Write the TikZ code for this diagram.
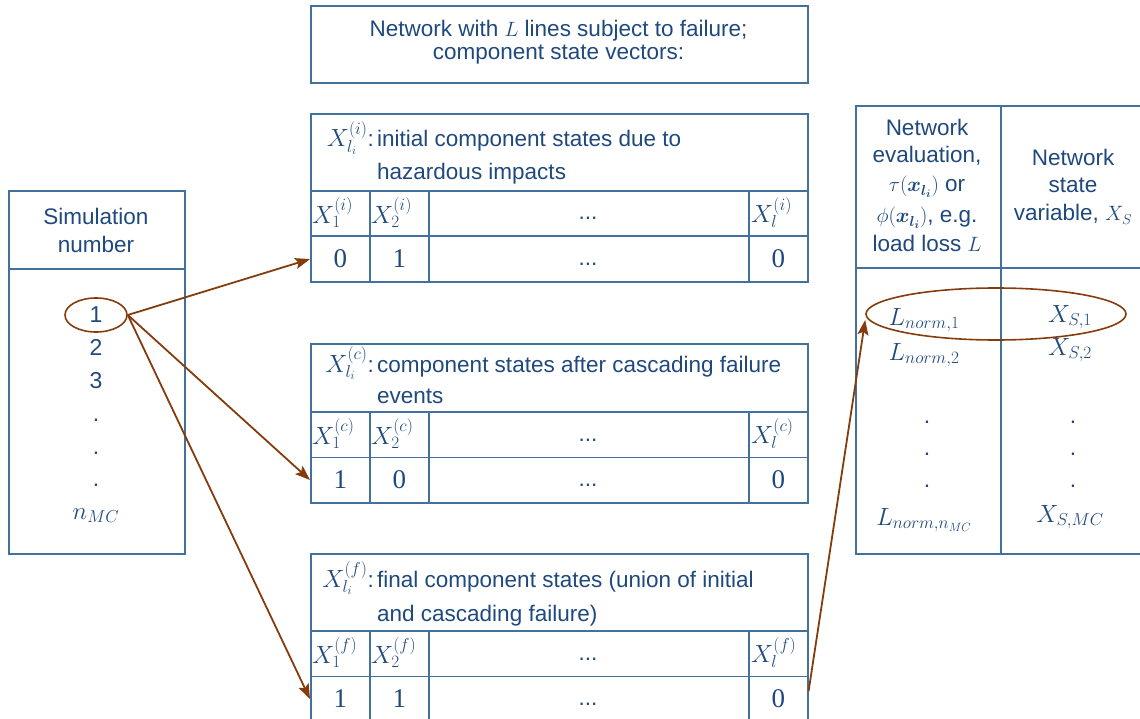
\documentclass[tikz,border=0pt]{standalone}
\usepackage[no-math]{fontspec}
\setmainfont{Liberation Sans}
\newfontfamily\digitfont{Liberation Serif}
\usepackage{bm}
\usetikzlibrary{arrows.meta,shapes.geometric}
\definecolor{ink}{RGB}{31,73,125}
\definecolor{rule}{RGB}{65,113,156}
\definecolor{link}{RGB}{132,60,12}

\begin{document}
\begin{tikzpicture}[x=1pt,y=-1pt,
  every node/.style={text=ink, inner sep=0pt},
  box/.style={draw=rule, line width=1.6pt, rectangle, inner sep=0pt, anchor=north west},
  txt/.style={font=\fontsize{22.5}{27}\selectfont},
  lab/.style={font=\fontsize{25}{28}\selectfont},
  cellsym/.style={font=\fontsize{26}{28}\selectfont},
  val/.style={font=\digitfont\fontsize{27}{32}\selectfont},
  res/.style={font=\fontsize{26}{30}\selectfont},
  num/.style={font=\fontsize{23}{28}\selectfont},
  pick/.style={draw=link, line width=1.6pt, ellipse, inner sep=0pt},
  feed/.style={draw=link, line width=1.8pt, -{Stealth[length=15pt,width=11pt,inset=3pt]}}]
\clip (0,0) rectangle (1140,719);

% title box
\node[box, minimum width=497pt, minimum height=77pt] (net) at (310,5) {};
\node[txt, anchor=base] (net-a) at (558.5,37) {Network with $L$ lines subject to failure;};
\node[txt, anchor=base] (net-b) at (558.5,60) {component state vectors:};

% the three component state tables
\foreach \n/\t/\h/\s/\ba/\bb/\la/\lb/\va/\vb/\vl in {
  ini/113/190/i/147/180/{initial component states due to}/{hazardous impacts}/0/1/0,
  cas/343/411/c/372/403/{component states after cascading failure}/{events}/1/0/0,
  fin/553/630/f/587/621/{final component states (union of initial}/{and cascading failure)}/1/1/0}
{
  \pgfmathsetmacro\hh{\h-\t}
  \pgfmathsetmacro\ra{\h+45.5}
  \pgfmathsetmacro\da{\h+30}
  \pgfmathsetmacro\db{\h+75.5}
  \node[box, minimum width=497pt, minimum height=\hh pt] (\n-head) at (310,\t) {};
  \node[lab, anchor=base east] (\n-sym) at (374,\ba) {$X^{(\s)}_{l_i}$\fontsize{22.5}{27}\selectfont:};
  \node[txt, anchor=base west] (\n-la) at (377,\ba) {\la};
  \node[txt, anchor=base west] (\n-lb) at (377,\bb) {\lb};
  % symbol row
  \node[box, minimum width=59pt, minimum height=45.5pt] (\n-x1) at (310,\h) {};
  \node[box, minimum width=59pt, minimum height=45.5pt] (\n-x2) at (369,\h) {};
  \node[box, minimum width=320pt, minimum height=45.5pt] (\n-xd) at (428,\h) {};
  \node[box, minimum width=59pt, minimum height=45.5pt] (\n-xl) at (748,\h) {};
  \node[cellsym, anchor=west] (\n-s1) at ([xshift=2pt,yshift=1pt]\n-x1.west) {$X^{(\s)}_1$};
  \node[cellsym, anchor=west] (\n-s2) at ([xshift=2pt,yshift=1pt]\n-x2.west) {$X^{(\s)}_2$};
  \node[cellsym, anchor=west] (\n-sl) at ([xshift=3pt,yshift=1pt]\n-xl.west) {$X^{(\s)}_l$};
  \node[txt, anchor=base] (\n-sd) at (588,\da) {...};
  % value row
  \node[box, minimum width=59pt, minimum height=45.5pt, val] (\n-v1) at (310,\ra) {\va};
  \node[box, minimum width=59pt, minimum height=45.5pt, val] (\n-v2) at (369,\ra) {\vb};
  \node[box, minimum width=320pt, minimum height=45.5pt] (\n-vd) at (428,\ra) {};
  \node[box, minimum width=59pt, minimum height=45.5pt, val] (\n-vl) at (748,\ra) {\vl};
  \node[txt, anchor=base] (\n-dd) at (588,\db) {...};
}

% simulation number column
\node[box, minimum width=176pt, minimum height=78pt] (simh) at (8,190) {};
\node[txt, anchor=base] (simh-a) at (96,225) {Simulation};
\node[txt, anchor=base] (simh-b) at (96,253) {number};
\node[box, minimum width=176pt, minimum height=285pt] (simb) at (8,268) {};
\node[num, anchor=base] (s1) at (96,323) {1};
\node[num, anchor=base] (s2) at (96,355) {2};
\node[num, anchor=base] (s3) at (96,388) {3};
\node[num, anchor=base] (sd1) at (96,421) {.};
\node[num, anchor=base] (sd2) at (96,454) {.};
\node[num, anchor=base] (sd3) at (96,486) {.};
\node[res, anchor=base] (sn) at (96,519) {$n_{MC}$};
\node[pick, minimum width=62pt, minimum height=34pt] (e1) at (96,315) {};

% network evaluation columns
\node[box, minimum width=145pt, minimum height=162pt] (evh) at (855,105) {};
\node[box, minimum width=160pt, minimum height=162pt] (svh) at (1000,105) {};
\node[box, minimum width=145pt, minimum height=286pt] (evb) at (855,267) {};
\node[box, minimum width=160pt, minimum height=286pt] (svb) at (1000,267) {};

\node[txt, anchor=base] (evh-a) at (927,136) {Network};
\node[txt, anchor=base] (evh-b) at (927,163) {evaluation,};
\node[txt, anchor=base] (evh-c) at (927,192) {$\tau(\bm{x_{l_i}})$ or};
\node[txt, anchor=base] (evh-d) at (927,223) {$\phi(\bm{x_{l_i}})$, e.g.};
\node[txt, anchor=base] (evh-e) at (927,252) {load loss $L$};
\node[txt, anchor=base] (svh-a) at (1073,166) {Network};
\node[txt, anchor=base] (svh-b) at (1073,193) {state};
\node[txt, anchor=base] (svh-c) at (1073,221) {variable, $X_S$};

\node[res, anchor=base] (L1) at (924,325) {$L_{norm,1}$};
\node[res, anchor=base] (L2) at (924,360) {$L_{norm,2}$};
\node[num, anchor=base] (Ld1) at (927,423) {.};
\node[num, anchor=base] (Ld2) at (927,455) {.};
\node[num, anchor=base] (Ld3) at (927,487) {.};
\node[res, anchor=base] (Ln) at (924,525) {$L_{norm,n_{MC}}$};
\node[res, anchor=base] (X1) at (1070,322) {$X_{S,1}$};
\node[res, anchor=base] (X2) at (1070,355) {$X_{S,2}$};
\node[num, anchor=base] (Xd1) at (1073,423) {.};
\node[num, anchor=base] (Xd2) at (1073,455) {.};
\node[num, anchor=base] (Xd3) at (1073,487) {.};
\node[res, anchor=base] (Xn) at (1070,522) {$X_{S,MC}$};
\node[pick, minimum width=260pt, minimum height=52pt] (e2) at (996,314) {};

% connectors
\draw[feed] (e1.east) -- (ini-v1.west);
\draw[feed] (e1.east) -- (cas-v1.west);
\draw[feed] (e1.east) -- (fin-v1.west);
\draw[feed] ([yshift=8pt]fin-vl.east) -- ([yshift=-6pt]e2.west);
\end{tikzpicture}
\end{document}
